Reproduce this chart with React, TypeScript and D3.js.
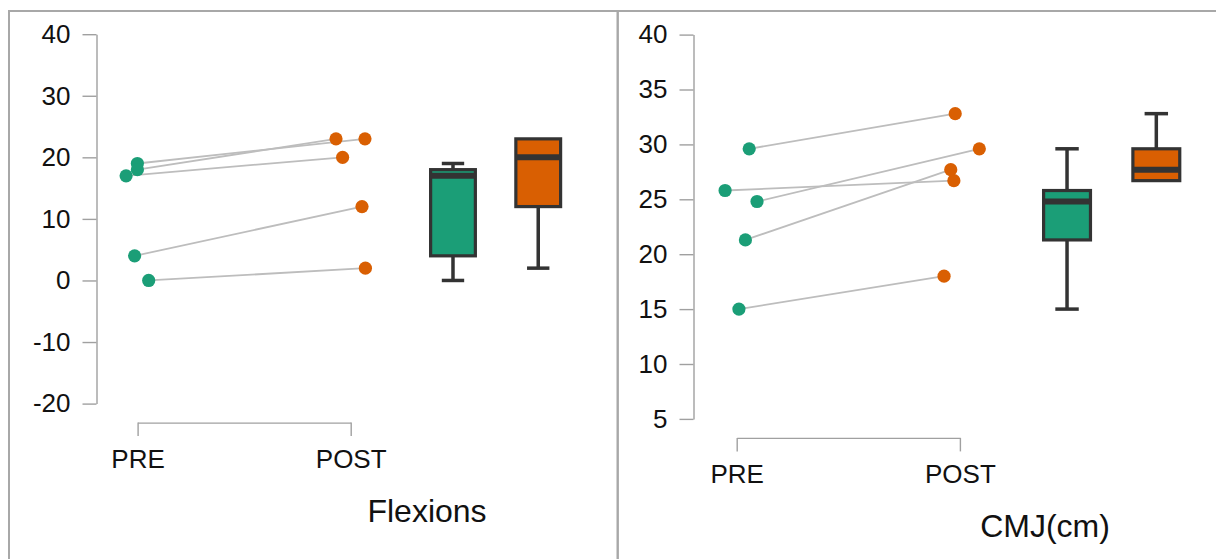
import React, { useEffect, useRef } from 'react';
import * as d3 from 'd3';

// Flexions (paired PRE -> POST)
const flexPre = [19, 18, 17, 4, 0];
const flexPost = [23, 23, 20, 12, 2];
const flexPreJitter = [-0.001, -0.001, -0.054, -0.014, 0.052];
const flexPostJitter = [0.067, -0.069, -0.038, 0.053, 0.069];
const flexTicks = [-20, -10, 0, 10, 20, 30, 40];

// CMJ (cm)
const cmjPre = [29.6, 25.8, 24.8, 21.3, 15.0];
const cmjPost = [32.8, 26.7, 29.6, 27.7, 18.0];
const cmjPreJitter = [0.056, -0.052, 0.091, 0.039, 0.010];
const cmjPostJitter = [-0.021, -0.027, 0.087, -0.041, -0.071];
const cmjTicks = [5, 10, 15, 20, 25, 30, 35, 40];

const groups = ['PRE', 'POST'];
const boxPositions = [1.48, 1.88];

const GREEN = '#1b9e77';
const ORANGE = '#d95f02';
const FONT = '"Liberation Sans", Arial, Helvetica, sans-serif';

const panels = [
  {
    title: 'Flexions', pre: flexPre, post: flexPost, preJ: flexPreJitter, postJ: flexPostJitter,
    ticks: flexTicks, axisX: 96.5, yTop: 34.2, yBottom: 403.6, x0: 137.6, x1: 350.7, titleX: 427,
  },
  {
    title: 'CMJ(cm)', pre: cmjPre, post: cmjPost, preJ: cmjPreJitter, postJ: cmjPostJitter,
    ticks: cmjTicks, axisX: 693.5, yTop: 34.6, yBottom: 418.9, x0: 736.7, x1: 959.9, titleX: 1045,
  },
];

function boxStats(values: number[]) {
  const s = values.slice().sort(d3.ascending);
  const q1 = d3.quantileSorted(s, 0.25) as number;
  const med = d3.quantileSorted(s, 0.5) as number;
  const q3 = d3.quantileSorted(s, 0.75) as number;
  const iqr = q3 - q1;
  const lo = d3.min(s.filter(v => v >= q1 - 1.5 * iqr)) as number;
  const hi = d3.max(s.filter(v => v <= q3 + 1.5 * iqr)) as number;
  return { q1, med, q3, lo, hi };
}

export default function App() {
  const svgRef = useRef<SVGSVGElement>(null);

  useEffect(() => {
    const svg = d3.select(svgRef.current);
    svg.selectAll('*').remove();

    // panel frames
    svg.append('rect').attr('x', 9).attr('y', 11).attr('width', 608.7).attr('height', 700)
      .attr('fill', 'none').attr('stroke', '#a8a8a8').attr('stroke-width', 2);
    svg.append('rect').attr('x', 617.7).attr('y', 11).attr('width', 700).attr('height', 700)
      .attr('fill', 'none').attr('stroke', '#a8a8a8').attr('stroke-width', 2);

    panels.forEach(p => {
      const g = svg.append('g');
      const ext = d3.extent(p.ticks) as [number, number];
      const y = d3.scaleLinear().domain(ext).range([p.yBottom, p.yTop]);
      const x = d3.scaleLinear().domain([0, 1]).range([p.x0, p.x1]);

      // y axis
      const ya = g.append('g').attr('transform', `translate(${p.axisX},0)`)
        .call(d3.axisLeft(y).tickValues(p.ticks).tickSize(14).tickSizeOuter(0).tickPadding(12)
          .tickFormat((d: any) => String(d)));
      ya.select('.domain').attr('stroke', '#a0a0a0').attr('stroke-width', 1.4);
      ya.selectAll('.tick line').attr('stroke', '#a0a0a0').attr('stroke-width', 1.4);
      ya.selectAll('.tick text').attr('font-size', 26).attr('font-family', FONT).attr('fill', '#111');

      // x bracket axis
      const bracketY = p.yBottom + 19;
      const xa = g.append('g').attr('transform', `translate(0,${bracketY})`)
        .call(d3.axisBottom(x).tickValues([0, 1]).tickSize(13.5).tickSizeOuter(0).tickPadding(13)
          .tickFormat((d: any) => groups[d as number]));
      xa.select('.domain').attr('stroke', '#a0a0a0').attr('stroke-width', 1.4);
      xa.selectAll('.tick line').attr('stroke', '#a0a0a0').attr('stroke-width', 1.4);
      xa.selectAll('.tick text').attr('font-size', 26).attr('font-family', FONT).attr('fill', '#111');

      // title
      g.append('text').attr('x', p.titleX).attr('y', bracketY + 99.5)
        .attr('text-anchor', 'middle').attr('font-size', 32).attr('font-family', FONT).attr('fill', '#111')
        .text(p.title);

      // connecting lines
      const pairs = p.pre.map((v, i) => ({ pre: v, post: p.post[i], pj: p.preJ[i], qj: p.postJ[i] }));
      g.append('g').selectAll('line').data(pairs).enter().append('line')
        .attr('x1', d => x(0 + d.pj)).attr('y1', d => y(d.pre))
        .attr('x2', d => x(1 + d.qj)).attr('y2', d => y(d.post))
        .attr('stroke', '#bdbdbd').attr('stroke-width', 1.8);

      // points
      g.append('g').selectAll('circle.pre').data(pairs).enter().append('circle')
        .attr('cx', d => x(0 + d.pj)).attr('cy', d => y(d.pre)).attr('r', 6.6).attr('fill', GREEN);
      g.append('g').selectAll('circle.post').data(pairs).enter().append('circle')
        .attr('cx', d => x(1 + d.qj)).attr('cy', d => y(d.post)).attr('r', 6.6).attr('fill', ORANGE);

      // boxplots
      const boxW = x(0.21) - x(0);
      [p.pre, p.post].forEach((vals, i) => {
        const s = boxStats(vals);
        const cx = x(boxPositions[i]);
        const bg = g.append('g');
        const stroke = '#333333';
        // whiskers
        bg.append('line').attr('x1', cx).attr('x2', cx).attr('y1', y(s.q3)).attr('y2', y(s.hi))
          .attr('stroke', stroke).attr('stroke-width', 3.5);
        bg.append('line').attr('x1', cx).attr('x2', cx).attr('y1', y(s.q1)).attr('y2', y(s.lo))
          .attr('stroke', stroke).attr('stroke-width', 3.5);
        if (s.hi > s.q3) {
          bg.append('line').attr('x1', cx - boxW / 4).attr('x2', cx + boxW / 4).attr('y1', y(s.hi)).attr('y2', y(s.hi))
            .attr('stroke', stroke).attr('stroke-width', 3.5);
        }
        if (s.lo < s.q1) {
          bg.append('line').attr('x1', cx - boxW / 4).attr('x2', cx + boxW / 4).attr('y1', y(s.lo)).attr('y2', y(s.lo))
            .attr('stroke', stroke).attr('stroke-width', 3.5);
        }
        // box
        bg.append('rect').attr('x', cx - boxW / 2).attr('y', y(s.q3)).attr('width', boxW)
          .attr('height', y(s.q1) - y(s.q3)).attr('fill', i === 0 ? GREEN : ORANGE)
          .attr('stroke', stroke).attr('stroke-width', 3.2);
        // median
        bg.append('line').attr('x1', cx - boxW / 2).attr('x2', cx + boxW / 2).attr('y1', y(s.med)).attr('y2', y(s.med))
          .attr('stroke', stroke).attr('stroke-width', 6);
      });
    });
  }, []);

  return (
    <svg ref={svgRef} width={1216} height={559}
      style={{ position: 'absolute', left: 0, top: 0, background: '#fff' }} />
  );
}
